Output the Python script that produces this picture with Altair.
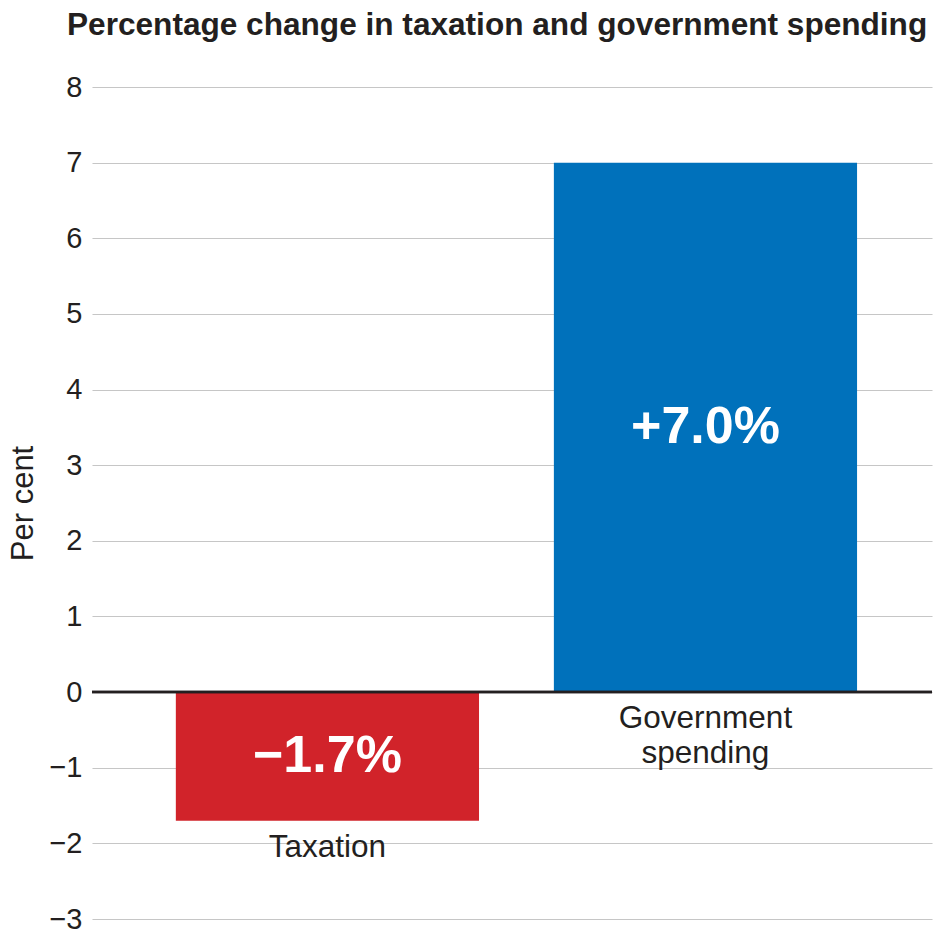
import altair as alt
import pandas as pd

categories = ["Taxation", "Government spending"]
values = [-1.7, 7.0]
value_labels = ["\u22121.7%", "+7.0%"]
category_labels = ["Taxation", "Government\nspending"]
colors = ["#d1232a", "#0071bb"]

df = pd.DataFrame({
    "category": categories,
    "value": values,
    "vlabel": value_labels,
    "clabel": category_labels,
})

FONT = "Liberation Sans"

x_enc = alt.X("category:N", sort=categories, axis=None,
              scale=alt.Scale(paddingInner=0.198, paddingOuter=0.21, align=0.528))
y_scale = alt.Scale(domain=[-3, 8], nice=False, zero=False)

base = alt.Chart(df).transform_calculate(
    mid="datum.value / 2",
    labely="min(datum.value, 0)",
)

bars = base.mark_bar().encode(
    x=x_enc,
    y=alt.Y("value:Q", scale=y_scale,
            axis=alt.Axis(title="Per cent", values=list(range(-3, 9)), format="d",
                          grid=True, gridColor="#c6c6c6", gridWidth=1.2,
                          domain=False, ticks=False,
                          labelFontSize=29, labelColor="#231f20", labelFont=FONT,
                          labelPadding=10,
                          titleFontSize=31, titleFont=FONT, titleFontWeight="normal",
                          titleColor="#231f20", titlePadding=9)),
    y2=alt.datum(0),
    color=alt.Color("category:N", scale=alt.Scale(domain=categories, range=colors), legend=None),
)

zero = base.mark_rule(color="#231f20", strokeWidth=2.5).encode(y=alt.datum(0))

vlab = base.mark_text(font=FONT, fontSize=52, fontWeight="bold", color="white",
                      baseline="middle", align="center").encode(
    x=x_enc, y=alt.Y("mid:Q"), text="vlabel:N")

clab = base.mark_text(font=FONT, fontSize=31.5, color="#231f20", baseline="top",
                      align="center", dy=11, lineBreak="\n", lineHeight=35).encode(
    x=x_enc, y=alt.Y("labely:Q"), text="clabel:N")

chart = alt.layer(bars, zero, vlab, clab).properties(
    width=840, height=832,
    autosize=alt.AutoSizeParams(type="none"),
    padding={"left": 92, "top": 87, "right": 4, "bottom": 15},
    title=alt.TitleParams("Percentage change in taxation and government spending",
                          anchor="start", frame="group", dx=-25, offset=31,
                          font=FONT, fontSize=31.6, fontWeight="bold", color="#231f20"),
).configure_view(stroke=None)

chart.save("out.html", embed_options={"renderer": "svg", "actions": False})
